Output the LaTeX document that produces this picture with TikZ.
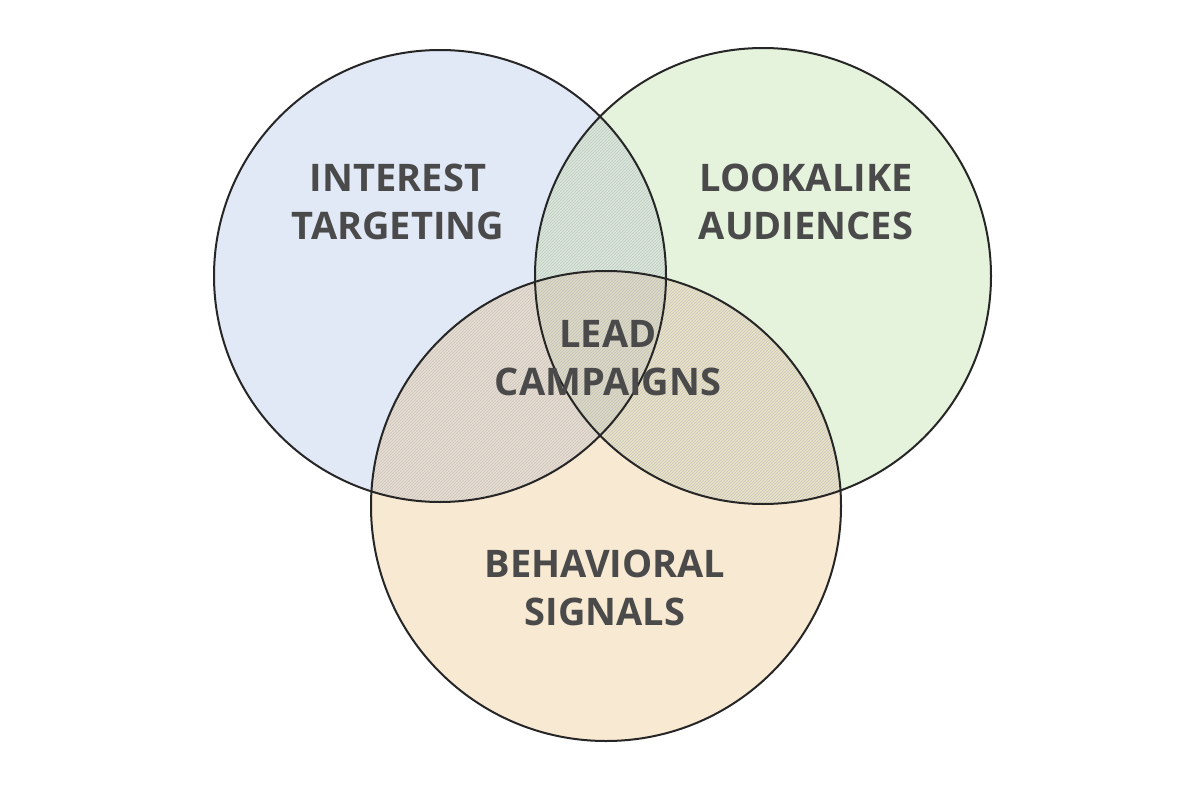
\documentclass[tikz,border=0pt]{standalone}
\usepackage{fontspec}
\setmainfont{Open Sans}
\usetikzlibrary{patterns}
\definecolor{blueset}{HTML}{C8D5EE}
\definecolor{greenset}{HTML}{CFE8C0}
\definecolor{orangeset}{HTML}{F1D3A6}
\definecolor{labelgray}{HTML}{4A4A4A}
\tikzset{
  setcircle/.style={draw=black!85, line width=2pt},
  setlabel/.style={text=labelgray, font=\fontsize{38}{48}\selectfont\bfseries, align=center},
}
\begin{document}
\begin{tikzpicture}[x=1pt, y=-1pt]
\useasboundingbox (0,0) rectangle (1200,800);

% Set centres
\coordinate (I) at (440,276);
\coordinate (L) at (763,276);
\coordinate (B) at (606,506);

% Fills
\fill[blueset, opacity=0.55] (I) circle (226);
\fill[greenset, opacity=0.55] (L) circle (228);
\fill[orangeset, opacity=0.5] (B) circle (235);

% Hatching of the overlaps
\begin{scope}
  \clip (I) circle (226);
  \fill[pattern=north east lines, pattern color=gray!45] (L) circle (228);
  \fill[pattern=north east lines, pattern color=gray!45] (B) circle (235);
\end{scope}
\begin{scope}
  \clip (L) circle (228);
  \fill[pattern=north east lines, pattern color=gray!45] (B) circle (235);
\end{scope}

% Outlines
\draw[setcircle] (I) circle (226);
\draw[setcircle] (L) circle (228);
\draw[setcircle] (B) circle (235);

% Labels
\node[setlabel] (interest) at (398,202) {INTEREST\\TARGETING};
\node[setlabel] (lookalike) at (806,202) {LOOKALIKE\\AUDIENCES};
\node[setlabel] (lead) at (608,358) {LEAD\\CAMPAIGNS};
\node[setlabel] (behav) at (605,588) {BEHAVIORAL\\SIGNALS};
\end{tikzpicture}
\end{document}
